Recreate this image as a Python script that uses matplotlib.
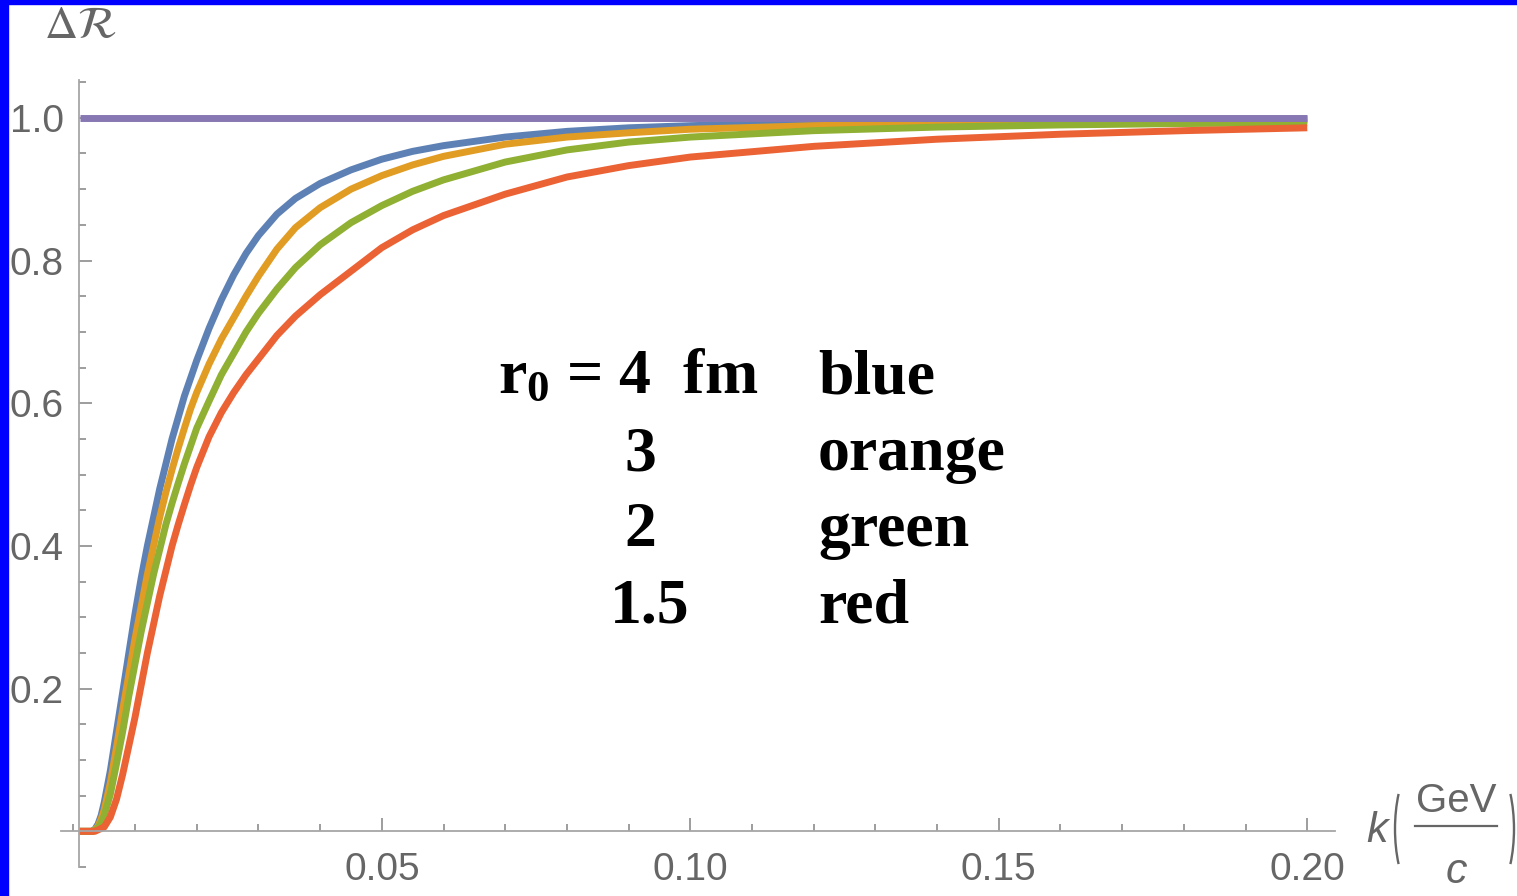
import matplotlib.pyplot as plt
from matplotlib.patches import Rectangle, Arc
from matplotlib.lines import Line2D
from matplotlib.transforms import IdentityTransform
from matplotlib.ticker import MultipleLocator, FixedLocator, FormatStrFormatter

plt.rcParams['mathtext.fontset'] = 'custom'
plt.rcParams['mathtext.rm'] = 'Liberation Sans'
plt.rcParams['mathtext.it'] = 'Liberation Sans:italic'
plt.rcParams['mathtext.bf'] = 'Liberation Serif:bold'

# k values (GeV/c) and Delta R
k = [0.001, 0.003, 0.0035, 0.004, 0.0045, 0.005, 0.006, 0.007, 0.008, 0.009,
     0.010, 0.011, 0.012, 0.013, 0.014, 0.015, 0.016, 0.017, 0.018, 0.019,
     0.020, 0.022, 0.024, 0.026, 0.028, 0.030, 0.033, 0.036, 0.040, 0.045,
     0.050, 0.055, 0.060, 0.070, 0.080, 0.090, 0.100, 0.120, 0.140, 0.160,
     0.180, 0.200]
r_blue = [0.0, 0.0, 0.003, 0.01, 0.022, 0.04, 0.085, 0.14, 0.195, 0.25,
          0.305, 0.355, 0.40, 0.44, 0.48, 0.515, 0.55, 0.58, 0.61, 0.635,
          0.66, 0.705, 0.745, 0.78, 0.81, 0.835, 0.865, 0.887, 0.908, 0.927,
          0.942, 0.953, 0.961, 0.973, 0.981, 0.986, 0.989, 0.993, 0.995, 0.997,
          0.998, 0.998]
r_orange = [0.0, 0.0, 0.002, 0.007, 0.017, 0.03, 0.068, 0.118, 0.17, 0.22,
            0.27, 0.315, 0.36, 0.40, 0.44, 0.475, 0.507, 0.537, 0.565, 0.592,
            0.615, 0.655, 0.69, 0.72, 0.75, 0.778, 0.816, 0.846, 0.874, 0.9,
            0.919, 0.934, 0.946, 0.963, 0.973, 0.979, 0.984, 0.989, 0.992, 0.994,
            0.995, 0.996]
r_green = [0.0, 0.0, 0.001, 0.005, 0.012, 0.022, 0.052, 0.095, 0.14, 0.19,
           0.235, 0.28, 0.32, 0.36, 0.395, 0.43, 0.46, 0.488, 0.515, 0.54,
           0.565, 0.603, 0.64, 0.67, 0.70, 0.726, 0.76, 0.79, 0.822, 0.853,
           0.877, 0.897, 0.913, 0.938, 0.955, 0.966, 0.973, 0.982, 0.987, 0.990,
           0.992, 0.993]
r_red = [0.0, 0.0, 0.0, 0.002, 0.004, 0.006, 0.02, 0.045, 0.08, 0.12,
         0.16, 0.205, 0.25, 0.29, 0.33, 0.365, 0.40, 0.43, 0.458, 0.485,
         0.51, 0.553, 0.587, 0.615, 0.64, 0.662, 0.695, 0.722, 0.752, 0.785,
         0.818, 0.843, 0.863, 0.893, 0.917, 0.933, 0.945, 0.96, 0.97, 0.977,
         0.982, 0.986]
r_limit = [1.0] * len(k)

W, H = 1517, 896
fig = plt.figure(figsize=(W / 100, H / 100), dpi=100)
ax = fig.add_axes([61 / W, 29 / H, 1274 / W, 787 / H])
ax.set_xlim(-0.002, 0.2045)
ax.set_ylim(-0.05, 1.053)

lw = 5
for r, c in [(r_blue, '#5E81B5'), (r_orange, '#E19C24'), (r_green, '#8FB032'),
             (r_red, '#EB6235'), (r_limit, '#8778B3')]:
    ax.plot(k, r, color=c, lw=lw, solid_capstyle='butt', solid_joinstyle='round')

# Mathematica-like axes
for s in ['top', 'right']:
    ax.spines[s].set_visible(False)
ax.spines['left'].set_position(('data', 0.00094))
ax.spines['bottom'].set_position(('data', 0))
for s in ['left', 'bottom']:
    ax.spines[s].set_color('#a6a6a6')
    ax.spines[s].set_linewidth(1.3)

ax.xaxis.set_major_locator(FixedLocator([0.05, 0.10, 0.15, 0.20]))
ax.xaxis.set_minor_locator(FixedLocator([i * 0.01 for i in range(0, 21)]))
ax.xaxis.set_major_formatter(FormatStrFormatter('%.2f'))
ax.yaxis.set_major_locator(FixedLocator([0.2, 0.4, 0.6, 0.8, 1.0]))
ax.yaxis.set_minor_locator(MultipleLocator(0.05))
ax.yaxis.set_major_formatter(FormatStrFormatter('%.1f'))
ax.tick_params(which='both', direction='in', color='#8c8c8c', width=1.2)
ax.tick_params(which='major', length=9.5, labelsize=28, labelcolor='#666666')
ax.tick_params(which='minor', length=5)
ax.tick_params(axis='x', which='major', pad=15)
ax.tick_params(axis='y', which='major', pad=11)
for lab in ax.get_xticklabels() + ax.get_yticklabels():
    lab.set_fontfamily('Liberation Sans')

def fx(px):
    return px / W

def fy(py):
    return 1 - py / H

grey = '#666666'
# y axis label
fig.text(fx(44), fy(26), r'$\Delta\mathcal{R}$', fontsize=33, color=grey,
         math_fontfamily='stix', va='center', ha='left')

# x axis label: k (GeV / c) with tall thin brackets
fig.text(fx(1366), fy(842), 'k', fontsize=31, color=grey, style='italic',
         fontfamily='Liberation Sans', ha='left', va='baseline')
fig.text(fx(1456), fy(812), 'GeV', fontsize=29, color=grey,
         fontfamily='Liberation Sans', ha='center', va='baseline')
fig.text(fx(1456), fy(883), 'c', fontsize=31, color=grey, style='italic',
         fontfamily='Liberation Sans', ha='center', va='baseline')
fig.add_artist(Line2D([1415, 1497], [H - 826, H - 826], color=grey, lw=1.6,
                      transform=IdentityTransform()))
fig.add_artist(Arc((1426, H - 829), 62, 150, theta1=128, theta2=232, color=grey,
                   lw=1.7, transform=IdentityTransform()))
fig.add_artist(Arc((1483, H - 829), 62, 150, theta1=-52, theta2=52, color=grey,
                   lw=1.7, transform=IdentityTransform()))

# legend text
tk = dict(fontsize=46, fontfamily='Liberation Serif', fontweight='bold',
          color='black', va='baseline')
fig.text(fx(498), fy(393), r'$\mathbf{r_0}$ = 4  fm', ha='left', **tk)
fig.text(fx(640), fy(470), '3', ha='center', **tk)
fig.text(fx(640), fy(546), '2', ha='center', **tk)
fig.text(fx(650), fy(622), '1.5', ha='center', **tk)
for py, name in [(393, 'blue'), (470, 'orange'), (546, 'green'), (622, 'red')]:
    fig.text(fx(818), fy(py), name, ha='left', **tk)

# blue frame on the left and top edges
fig.patches.append(Rectangle((0, 0), 8 / W, 1, transform=fig.transFigure,
                             color='#0000ff', zorder=10))
fig.patches.append(Rectangle((0, 1 - 4 / H), 1, 4 / H, transform=fig.transFigure,
                             color='#0000ff', zorder=10))

fig.savefig('out.png', dpi=100)
